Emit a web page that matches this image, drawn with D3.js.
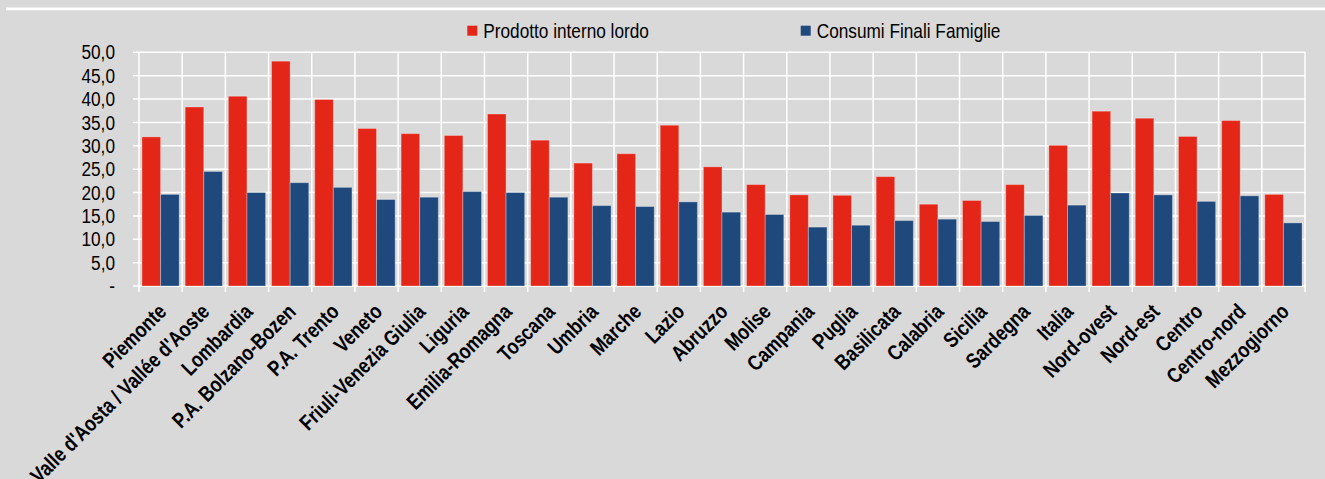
<!DOCTYPE html>
<html>
<head>
<meta charset="utf-8">
<script src="https://cdn.jsdelivr.net/npm/d3@7"></script>
<style>
  html, body { margin: 0; padding: 0; background: #d9d9d9; }
  svg { display: block; }
  text { font-family: "Liberation Sans", Arial, sans-serif; fill: #000; }
</style>
</head>
<body>
<svg id="chart" width="1325" height="479"></svg>
<script>
const categories = ["Piemonte", "Valle d'Aosta / Vallée d'Aoste", "Lombardia", "P.A. Bolzano-Bozen", "P.A. Trento", "Veneto", "Friuli-Venezia Giulia", "Liguria", "Emilia-Romagna", "Toscana", "Umbria", "Marche", "Lazio", "Abruzzo", "Molise", "Campania", "Puglia", "Basilicata", "Calabria", "Sicilia", "Sardegna", "Italia", "Nord-ovest", "Nord-est", "Centro", "Centro-nord", "Mezzogiorno"];
const seriesNames = ["Prodotto interno lordo", "Consumi Finali Famiglie"];
const pil = [31.9, 38.3, 40.6, 48.1, 39.9, 33.7, 32.6, 32.2, 36.8, 31.2, 26.3, 28.3, 34.4, 25.5, 21.7, 19.5, 19.4, 23.4, 17.5, 18.3, 21.7, 30.1, 37.4, 35.9, 32.0, 35.4, 19.6];
const consumi = [19.6, 24.5, 20.0, 22.1, 21.1, 18.5, 19.0, 20.2, 20.0, 19.0, 17.2, 17.0, 18.0, 15.8, 15.3, 12.6, 13.0, 14.0, 14.3, 13.8, 15.1, 17.3, 19.9, 19.5, 18.1, 19.3, 13.5];
const yTicks = [0, 5, 10, 15, 20, 25, 30, 35, 40, 45, 50];
const yTickLabels = ["-", "5,0", "10,0", "15,0", "20,0", "25,0", "30,0", "35,0", "40,0", "45,0", "50,0"];
const colors = ["#e42618", "#1f497d"];

const svg = d3.select("#chart");
const W = 1325, H = 479;
const plot = { left: 139, right: 1305, top: 52.3, bottom: 286 };

// condense text horizontally (narrow face look)
function condense(sel, f) {
  sel.each(function () {
    const L = this.getComputedTextLength();
    this.setAttribute("textLength", (L * f).toFixed(2));
    this.setAttribute("lengthAdjust", "spacingAndGlyphs");
  });
}

svg.append("rect").attr("width", W).attr("height", H).attr("fill", "#d9d9d9");
// top white rule
svg.append("rect").attr("x", 6).attr("y", 7.5).attr("width", W - 6).attr("height", 2.8).attr("fill", "#ffffff");

const x = d3.scaleBand().domain(categories).range([plot.left, plot.right]).paddingInner(0).paddingOuter(0);
const x1 = d3.scaleBand().domain(seriesNames).range([0, x.bandwidth()]).paddingInner(0).paddingOuter(0.16);
const y = d3.scaleLinear().domain([0, 50]).range([plot.bottom, plot.top]);

const grid = svg.append("g");
grid.selectAll("line.h").data(yTicks).join("line")
  .attr("x1", plot.left - 6).attr("x2", plot.right)
  .attr("y1", d => y(d)).attr("y2", d => y(d))
  .attr("stroke", "#fff").attr("stroke-width", 1.5);
const bounds = categories.map(c => x(c)).concat([plot.right]);
grid.selectAll("line.v").data(bounds).join("line")
  .attr("x1", d => d).attr("x2", d => d)
  .attr("y1", plot.top).attr("y2", plot.bottom + 6)
  .attr("stroke", "#fff").attr("stroke-width", 1.5);

// y labels
svg.append("g").selectAll("text").data(yTicks).join("text")
  .attr("x", 115).attr("y", d => y(d)).attr("dy", "0.35em")
  .attr("text-anchor", "end").style("font-size", "20.5px")
  .text((d, i) => yTickLabels[i])
  .call(condense, 0.84);

// bars
const data = categories.map((c, i) => ({ c, vals: [pil[i], consumi[i]] }));
const groups = svg.append("g").selectAll("g").data(data).join("g")
  .attr("transform", d => `translate(${x(d.c)},0)`);
groups.selectAll("rect").data(d => d.vals.map((v, k) => ({ v, k }))).join("rect")
  .attr("x", d => x1(seriesNames[d.k]))
  .attr("width", x1.bandwidth())
  .attr("y", d => y(d.v))
  .attr("height", d => y(0) - y(d.v))
  .attr("fill", d => colors[d.k])
  .attr("stroke", "rgba(255,255,255,0.3)").attr("stroke-width", 1);

// x labels
svg.append("g").selectAll("text").data(categories).join("text")
  .attr("transform", c => `translate(${x(c) + x.bandwidth() / 2 + 1},307) rotate(-45)`)
  .attr("y", 8.5)
  .attr("text-anchor", "end")
  .style("font-size", "21.5px").style("font-weight", "bold")
  .text(c => c)
  .call(condense, 0.82);

// legend
const legendX = [467.3, 800.7];
const lg = svg.append("g").selectAll("g").data(seriesNames).join("g")
  .attr("transform", (d, i) => `translate(${legendX[i]},0)`);
lg.append("rect").attr("x", 0).attr("y", 25.7).attr("width", 10).attr("height", 10)
  .attr("fill", (d, i) => colors[i]);
lg.append("text").attr("x", 16).attr("y", 38.3).style("font-size", "21px").text(d => d)
  .call(condense, 0.82);
</script>
</body>
</html>
